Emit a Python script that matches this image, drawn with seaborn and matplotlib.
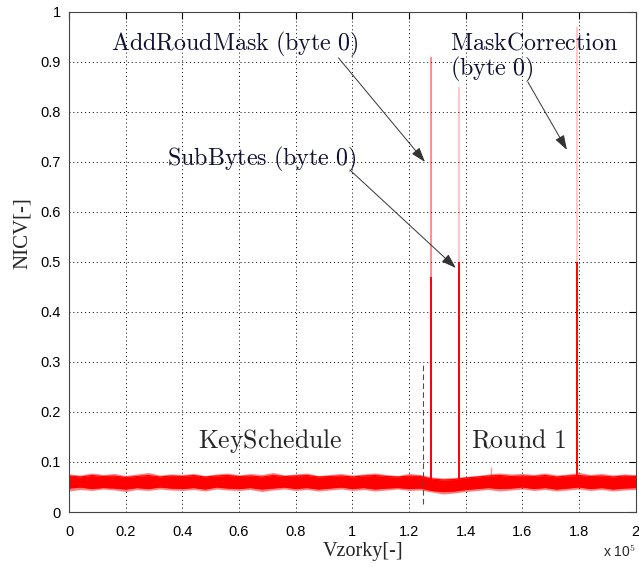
import numpy as np
import pandas as pd
import matplotlib
matplotlib.use('Agg')
import matplotlib.pyplot as plt
import seaborn as sns

band_x = [i * 0.04e5 for i in range(51)]
band_hi = [0.076, 0.074, 0.078, 0.075, 0.077, 0.073, 0.076, 0.079, 0.074, 0.076,
           0.075, 0.077, 0.073, 0.076, 0.078, 0.074, 0.077, 0.075, 0.079, 0.074,
           0.076, 0.078, 0.073, 0.075, 0.077, 0.074, 0.076, 0.078, 0.075, 0.073,
           0.077, 0.075, 0.070, 0.068, 0.069, 0.071, 0.073, 0.076, 0.078, 0.076,
           0.077, 0.075, 0.078, 0.074, 0.076, 0.079, 0.075, 0.077, 0.074, 0.076,
           0.075]
band_lo = [0.042, 0.045, 0.043, 0.046, 0.044, 0.041, 0.045, 0.043, 0.046, 0.044,
           0.043, 0.045, 0.042, 0.046, 0.044, 0.043, 0.045, 0.041, 0.044, 0.046,
           0.043, 0.045, 0.042, 0.044, 0.046, 0.043, 0.045, 0.042, 0.044, 0.046,
           0.043, 0.044, 0.040, 0.036, 0.038, 0.041, 0.043, 0.045, 0.042, 0.044,
           0.046, 0.043, 0.045, 0.042, 0.044, 0.046, 0.043, 0.045, 0.042, 0.044,
           0.045]
core_hi = [0.072, 0.070, 0.073, 0.071, 0.072, 0.069, 0.071, 0.073, 0.070, 0.072,
           0.071, 0.073, 0.070, 0.072, 0.073, 0.071, 0.072, 0.070, 0.073, 0.071,
           0.072, 0.073, 0.070, 0.071, 0.072, 0.070, 0.072, 0.073, 0.071, 0.070,
           0.072, 0.071, 0.066, 0.064, 0.065, 0.068, 0.070, 0.072, 0.073, 0.071,
           0.072, 0.071, 0.073, 0.070, 0.072, 0.073, 0.071, 0.072, 0.070, 0.072,
           0.071]
core_lo = [0.048, 0.050, 0.047, 0.049, 0.048, 0.046, 0.049, 0.047, 0.050, 0.048,
           0.047, 0.049, 0.046, 0.050, 0.048, 0.047, 0.049, 0.046, 0.048, 0.050,
           0.047, 0.049, 0.046, 0.048, 0.050, 0.047, 0.049, 0.046, 0.048, 0.049,
           0.047, 0.048, 0.043, 0.041, 0.042, 0.045, 0.047, 0.049, 0.047, 0.048,
           0.050, 0.047, 0.049, 0.046, 0.048, 0.050, 0.047, 0.049, 0.046, 0.048,
           0.049]

# the three leakage peaks: full height (faint) and the strong part
spike_x = [1.277e5, 1.377e5, 1.792e5]
spike_top = [0.91, 0.85, 0.97]
spike_strong = [0.47, 0.50, 0.50]
spike_alpha = [0.45, 0.22, 0.22]
# small outlier in the noise
blip_x = 1.49e5
blip_top = 0.09

xticks = [i * 0.2e5 for i in range(11)]
xtick_labels = ['0', '0.2', '0.4', '0.6', '0.8', '1', '1.2', '1.4', '1.6', '1.8', '2']
yticks = [i / 10 for i in range(11)]
ytick_labels = ['0', '0.1', '0.2', '0.3', '0.4', '0.5', '0.6', '0.7', '0.8', '0.9', '1']

df = pd.DataFrame({'x': band_x, 'hi': band_hi, 'lo': band_lo,
                   'chi': core_hi, 'clo': core_lo})

sns.set_style('white')
plt.rcParams['mathtext.fontset'] = 'cm'
plt.rcParams['font.family'] = ['Liberation Sans', 'DejaVu Sans']

fig = plt.figure(figsize=(6.39, 5.67), dpi=100)
ax = fig.add_axes([0.108, 0.097, 0.887, 0.882])

red = '#ff0000'
ax.fill_between(df['x'], df['lo'], df['hi'], color=red, alpha=0.5, lw=0)
ax.fill_between(df['x'], df['clo'], df['chi'], color=red, lw=0)
sns.lineplot(x='x', y='chi', data=df, ax=ax, color=red, lw=0.8)
sns.lineplot(x='x', y='clo', data=df, ax=ax, color=red, lw=0.8)
ax.vlines(blip_x, 0.06, blip_top, color=red, alpha=0.4, lw=1.0)

for sx, top, strong, a in zip(spike_x, spike_top, spike_strong, spike_alpha):
    ax.vlines(sx, 0.06, top, color=red, alpha=a, lw=1.4)
    ax.vlines(sx, 0.05, strong, color=red, lw=1.4)

ax.vlines(1.25e5, 0.015, 0.30, color='0.3', lw=0.8, linestyles=(0, (5, 3)))

ax.set_xlim(0, 2e5)
ax.set_ylim(0, 1)
ax.set_xticks(xticks)
ax.set_xticklabels(xtick_labels)
ax.set_yticks(yticks)
ax.set_yticklabels(ytick_labels)
ax.tick_params(direction='in', length=5, width=0.8, top=True, right=True,
               labelsize=10.5, colors='black', pad=6)
ax.tick_params(axis='x', pad=9)
ax.grid(True, color='black', lw=0.7, linestyle=(0, (1, 3)))
for s in ax.spines.values():
    s.set_color('#444444')
    s.set_linewidth(0.8)

ax.set_xlabel('')
ax.set_ylabel('')
fig.text(0.568, 0.027, 'Vzorky[-]', family='Liberation Serif', fontsize=14.5,
         ha='center', va='center')
fig.text(0.035, 0.589, 'NICV[-]', family='Liberation Serif', fontsize=15,
         ha='center', va='center', rotation=90)
fig.text(0.995, 0.027, r'x 10$^{5}$', fontsize=10, ha='right', va='center',
         family='Liberation Sans')

tkw = dict(fontsize=17.3, ha='left', va='center', color='#111133')
ax.text(0.148e5, 0.934, r'$\mathrm{AddRoudMask\ (byte\ 0)}$', **tkw)
ax.text(1.344e5, 0.936, r'$\mathrm{MaskCorrection}$', **tkw)
ax.text(1.344e5, 0.884, r'$\mathrm{(byte\ 0)}$', **tkw)
ax.text(0.346e5, 0.704, r'$\mathrm{SubBytes\ (byte\ 0)}$', **tkw)
ax.text(0.455e5, 0.142, r'$\mathrm{KeySchedule}$', fontsize=18.5, ha='left', va='center')
ax.text(1.418e5, 0.142, r'$\mathrm{Round\ 1}$', fontsize=18.5, ha='left', va='center')

akw = dict(arrowstyle='-|>,head_length=0.9,head_width=0.3', color='0.2', lw=0.7,
           shrinkA=0, shrinkB=0)
ax.annotate('', xy=(1.256e5, 0.70), xytext=(0.951e5, 0.908), arrowprops=akw)
ax.annotate('', xy=(1.757e5, 0.724), xytext=(1.619e5, 0.86), arrowprops=akw)
ax.annotate('', xy=(1.365e5, 0.488), xytext=(0.991e5, 0.684), arrowprops=akw)

fig.savefig('out.png', dpi=100)
